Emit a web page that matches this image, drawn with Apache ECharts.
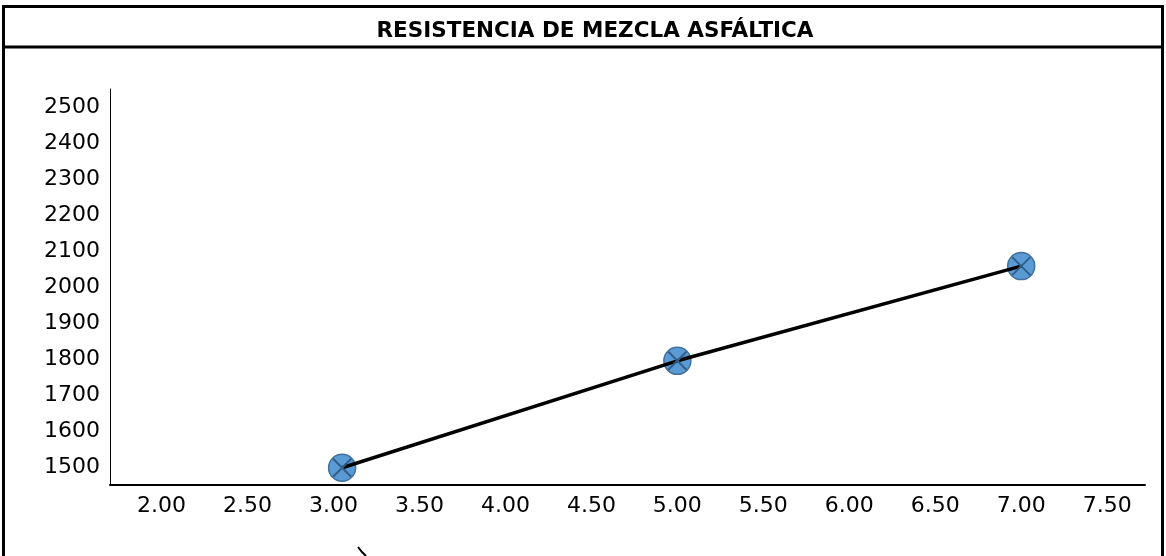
<!DOCTYPE html>
<html>
<head>
<meta charset="utf-8">
<title>Resistencia de mezcla asfáltica</title>
<script src="https://cdn.jsdelivr.net/npm/echarts@6/dist/echarts.min.js"></script>
<style>
  html, body { margin: 0; padding: 0; background: #ffffff; }
  #chart { width: 1166px; height: 556px; }
</style>
</head>
<body>
<div id="chart"></div>
<script>
// Asphalt content (%) and measured mix strength
const contenido = [3.05, 5.00, 7.00];
const resistencia = [1498, 1795, 2058];

// Tick labels shown on each axis
const xTicks = [2.0, 2.5, 3.0, 3.5, 4.0, 4.5, 5.0, 5.5, 6.0, 6.5, 7.0, 7.5];
const yTicks = [1500, 1600, 1700, 1800, 1900, 2000, 2100, 2200, 2300, 2400, 2500];

const titulo = 'RESISTENCIA DE MEZCLA ASFÁLTICA';

const puntos = contenido.map((x, i) => [x, resistencia[i]]);

const FONT = 'DejaVu Sans';

const chart = echarts.init(document.getElementById('chart'), null, { renderer: 'canvas' });

chart.setOption({
  animation: false,
  backgroundColor: '#ffffff',
  title: {
    text: titulo,
    left: 590,
    top: 15,
    textAlign: 'center',
    textStyle: { fontFamily: FONT, fontSize: 21.5, fontWeight: 'bold', color: '#000000' }
  },
  graphic: [
    // outer frame of the chart
    { type: 'rect', shape: { x: 3.5, y: 6.5, width: 1159, height: 560 },
      style: { fill: 'none', stroke: '#000000', lineWidth: 3 }, silent: true },
    // rule under the title
    { type: 'line', shape: { x1: 3.5, y1: 47, x2: 1162.5, y2: 47 },
      style: { stroke: '#000000', lineWidth: 3 }, silent: true },
    // small pointer mark at the lower edge
    { type: 'polyline', shape: { points: [[358, 547], [362, 552], [366, 556]] },
      style: { stroke: '#000000', lineWidth: 2, fill: 'none' }, silent: true }
  ],
  grid: { left: 110, right: 21, top: 89, bottom: 71, containLabel: false },
  xAxis: {
    type: 'value',
    min: 1.70,
    max: 7.72,
    axisLine: { show: true, lineStyle: { color: '#000000', width: 2 } },
    axisTick: { show: false },
    splitLine: { show: false },
    axisLabel: {
      customValues: xTicks,
      margin: 10,
      fontFamily: FONT,
      fontSize: 22,
      color: '#000000',
      formatter: v => Number(v).toFixed(2)
    }
  },
  yAxis: {
    type: 'value',
    min: 1450,
    max: 2550,
    axisLine: { show: true, lineStyle: { color: '#000000', width: 1 } },
    axisTick: { show: false },
    splitLine: { show: false },
    axisLabel: {
      customValues: yTicks,
      margin: 10,
      fontFamily: FONT,
      fontSize: 22,
      color: '#000000',
      formatter: v => String(Math.round(v))
    }
  },
  series: [
    {
      // circular markers
      type: 'scatter',
      data: puntos,
      symbol: 'circle',
      symbolSize: 27,
      z: 2,
      itemStyle: { color: '#5B9BD5', borderColor: '#41719C', borderWidth: 1.5, opacity: 1 }
    },
    {
      // connecting line
      type: 'line',
      data: puntos,
      showSymbol: false,
      symbol: 'none',
      z: 3,
      lineStyle: { color: '#000000', width: 3.5 }
    },
    {
      // cross drawn inside each marker
      type: 'scatter',
      data: puntos,
      symbol: 'path://M0,0L10,10M10,0L0,10',
      symbolSize: 18,
      z: 4,
      itemStyle: { color: 'none', borderColor: '#2F5F8A', borderWidth: 2, opacity: 1 }
    }
  ]
});
</script>
</body>
</html>
